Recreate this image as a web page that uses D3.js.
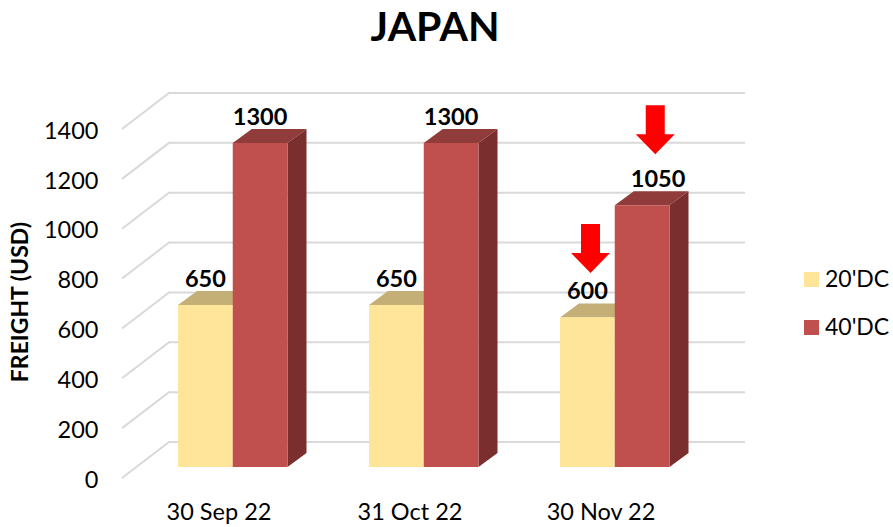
<!DOCTYPE html>
<html>
<head>
<meta charset="utf-8">
<script src="https://cdn.jsdelivr.net/npm/d3@7"></script>
<style>
  html, body { margin: 0; padding: 0; background: #fff; }
  text { font-family: Lato, "Open Sans", sans-serif; fill: #000; }
</style>
</head>
<body>
<div id="chart"></div>
<script>
const categories = ["30 Sep 22", "31 Oct 22", "30 Nov 22"];
const seriesNames = ["20'DC", "40'DC"];
const values20 = [650, 650, 600];
const values40 = [1300, 1300, 1050];
const yTicks = [0, 200, 400, 600, 800, 1000, 1200, 1400];
// the two rates that dropped in november get a red arrow
const drops = [{cat: "30 Nov 22", series: 0}, {cat: "30 Nov 22", series: 1}];

const width = 893, height = 527;
const colors = [
  {front: "#FEE599", top: "#C4B077"},
  {front: "#C0504D", top: "#8F3C3A", side: "#7A2F2E"}
];

const svg = d3.select("#chart").append("svg")
  .attr("width", width).attr("height", height)
  .style("display", "block");

// front edge of the floor, the back wall sits one depth further
const y = d3.scaleLinear().domain([0, 1400]).range([478, 129]);
const wallDx = 47, wallDy = -36;
const gridRight = 745;

// bars stand a bit inside the floor
const barLift = 11;
const barDx = 19, barDy = -14;
const x = d3.scaleBand().domain(categories).range([137.5, 710.5]);
const xSeries = d3.scaleBand().domain([0, 1]).range([40.5, 150]);

// grid: slanted piece on the floor side, then straight along the wall
svg.append("g").selectAll("path")
  .data(yTicks)
  .join("path")
  .attr("d", d => {
    const p = d3.path();
    p.moveTo(122, y(d));
    p.lineTo(122 + wallDx, y(d) + wallDy);
    p.lineTo(gridRight, y(d) + wallDy);
    return p.toString();
  })
  .attr("fill", "none")
  .attr("stroke", "#D9D9D9")
  .attr("stroke-width", 2);

// y axis labels
const yAxis = d3.axisLeft(y).tickValues(yTicks).tickSize(0).tickPadding(0).tickFormat(d3.format("d"));
const yG = svg.append("g").attr("transform", "translate(98.5,1)").call(yAxis);
yG.select(".domain").remove();
yG.selectAll("text").style("font-size", "23.5px").attr("dy", "0.35em");

// flatten into one list of bars, series order so red paints over yellow
const bars = [];
[values20, values40].forEach((vals, s) => {
  vals.forEach((v, i) => bars.push({cat: categories[i], series: s, value: v}));
});

function barBox(d) {
  const x0 = x(d.cat) + xSeries(d.series);
  return {x0: x0, x1: x0 + xSeries.bandwidth(), top: y(d.value) - barLift, base: y(0) - barLift};
}

const poly = pts => "M" + pts.map(p => p.join(",")).join("L") + "Z";

const barG = svg.append("g").selectAll("g").data(bars).join("g");

barG.append("path")
  .attr("fill", d => colors[d.series].top)
  .attr("d", d => {
    const b = barBox(d);
    return poly([[b.x0, b.top], [b.x0 + barDx, b.top + barDy], [b.x1 + barDx, b.top + barDy], [b.x1, b.top]]);
  });

barG.filter(d => d.series === 1).append("path")
  .attr("fill", d => colors[d.series].side)
  .attr("d", d => {
    const b = barBox(d);
    return poly([[b.x1, b.top], [b.x1 + barDx, b.top + barDy], [b.x1 + barDx, b.base + barDy], [b.x1, b.base]]);
  });

barG.append("rect")
  .attr("x", d => barBox(d).x0)
  .attr("y", d => barBox(d).top)
  .attr("width", xSeries.bandwidth())
  .attr("height", d => barBox(d).base - barBox(d).top)
  .attr("fill", d => colors[d.series].front);

// value labels were hand moved in the original, so nudge per bar
const labelNudge = {"30 Sep 22": [0, 0], "31 Oct 22": [0, 0], "30 Nov 22": [0, 16]};
const labelLift = {0: 18, 1: 18};
svg.append("g").selectAll("text")
  .data(bars)
  .join("text")
  .attr("x", d => {
    const b = barBox(d);
    return (b.x0 + b.x1) / 2 + labelNudge[d.cat][d.series];
  })
  .attr("y", d => barBox(d).top - labelLift[d.series])
  .attr("text-anchor", "middle")
  .style("font-size", "23.5px")
  .style("font-weight", 700)
  .text(d => d.value);

// red arrows
const arrowShaft = 9.5, arrowHead = 19.5, arrowLen = 49, arrowHeadLen = 20;
svg.append("g").selectAll("path")
  .data(drops.map(dr => bars.find(b => b.cat === dr.cat && b.series === dr.series)))
  .join("path")
  .attr("fill", "#FF0000")
  .attr("d", d => {
    const b = barBox(d);
    const cx = b.x0 + (d.series === 0 ? 30.5 : 40.5);
    const tip = b.top - (d.series === 0 ? 44.5 : 51);
    return poly([
      [cx - arrowShaft, tip - arrowLen], [cx + arrowShaft, tip - arrowLen],
      [cx + arrowShaft, tip - arrowHeadLen], [cx + arrowHead, tip - arrowHeadLen],
      [cx, tip],
      [cx - arrowHead, tip - arrowHeadLen], [cx - arrowShaft, tip - arrowHeadLen]
    ]);
  });

// category labels
svg.append("g").selectAll("text")
  .data(categories)
  .join("text")
  .attr("x", d => x(d) + x.bandwidth() / 2 - 14)
  .attr("y", 520)
  .attr("text-anchor", "middle")
  .style("font-size", "23.5px")
  .text(d => d);

// legend
const legend = svg.append("g").selectAll("g")
  .data(seriesNames)
  .join("g")
  .attr("transform", (d, i) => `translate(804,${272 + i * 48})`);
legend.append("rect")
  .attr("width", 15).attr("height", 15)
  .attr("fill", (d, i) => colors[i].front);
legend.append("text")
  .attr("x", 21).attr("y", 15)
  .style("font-size", "23px")
  .text(d => d);

// axis title
svg.append("text")
  .attr("transform", "translate(28,302) rotate(-90)")
  .attr("text-anchor", "middle")
  .style("font-size", "23px")
  .style("font-weight", 700)
  .text("FREIGHT (USD)");

// chart title
svg.append("text")
  .attr("x", 435).attr("y", 41)
  .attr("text-anchor", "middle")
  .style("font-size", "41px")
  .style("font-weight", 700)
  .text("JAPAN");
</script>
</body>
</html>
